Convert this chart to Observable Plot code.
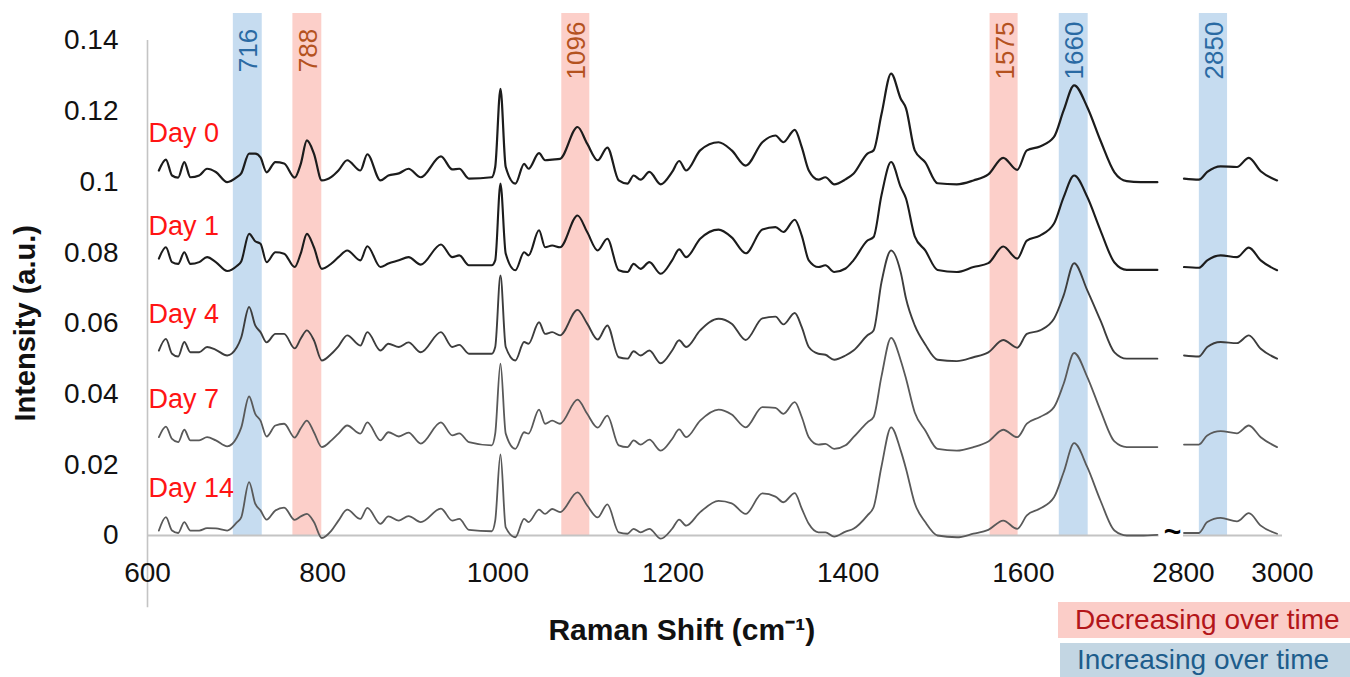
<!DOCTYPE html>
<html>
<head>
<meta charset="utf-8">
<script src="https://cdn.jsdelivr.net/npm/d3@7"></script>
<script src="https://cdn.jsdelivr.net/npm/@observablehq/plot@0.6"></script>
<style>
  html, body { margin: 0; padding: 0; background: #fff; }
  #wrap { position: relative; width: 1350px; height: 677px; font-family: Arial, "Liberation Sans", sans-serif; }
  .leg { position: absolute; font-size: 28px; box-sizing: border-box; padding-left: 17px; white-space: nowrap; }
  #legDec { left: 1058px; top: 602px; width: 292px; height: 36px; line-height: 36px; background: #fbcdc8; color: #b3161a; }
  #legInc { left: 1060px; top: 643px; width: 290px; height: 34px; line-height: 34px; background: #c3d6e3; color: #1d5d8c; }
</style>
</head>
<body>
<div id="wrap">
  <div id="chart"></div>
  <div class="leg" id="legDec">Decreasing over time</div>
  <div class="leg" id="legInc">Increasing over time</div>
</div>
<script>
// ---- data ----
const wavenumbers = [
  613,621,628,635,642,649,659,668,678,691,
  702,707,716,723,729,736,746,756,768,775,
  782,790,799,810,818,828,843,851,866,875,
  887,898,912,935,948,956,967,993,997,1003,
  1009,1020,1030,1035,1047,1054,1062,1071,1091,1102,
  1114,1125,1138,1148,1155,1163,1173,1186,1199,1207,
  1215,1231,1252,1267,1283,1302,1317,1326,1339,1347,
  1355,1366,1374,1384,1397,1406,1422,1429,1438,1449,
  1460,1466,1476,1488,1502,1524,1543,1560,1577,1593,
  1604,1619,1635,1646,1658,1673,1688,1704,1718,1734,
  1753,
  2801,2831,2848,2875,2908,2932,2956,2989
];

const day0 = [
  .1032,.1063,.1018,.1012,.1056,.1013,.1018,.1037,.1028,.0999,
  .1013,.1024,.1080,.1080,.1069,.1027,.1056,.1052,.1012,.1051,
  .1117,.1080,.1004,.1014,.1032,.1061,.1032,.1078,.1004,.1018,
  .1024,.1037,.1013,.1072,.1035,.1037,.1009,.1013,.1042,.1263,
  .1042,.0995,.1051,.1037,.1081,.1061,.1063,.1065,.1155,.1108,
  .1061,.1097,.1004,.0995,.1018,.1006,.1028,.0993,.1028,.1059,
  .1032,.1089,.1112,.1089,.1046,.1112,.1131,.1112,.1147,.1098,
  .1032,.1006,.1013,.0993,.1007,.1023,.1080,.1089,.1191,.1306,
  .1235,.1208,.1089,.1055,.0996,.0993,.1004,.1021,.1068,.1034,
  .1089,.1100,.1127,.1202,.1273,.1211,.1117,.1027,.1002,.0999,
  .0999,
  .1009,.1006,.1028,.1044,.1042,.1068,.1030,.1004
];

const day1 = [
  .0783,.0815,.0773,.0768,.0801,.0768,.0773,.0787,.0773,.0748,
  .0762,.0775,.0853,.0832,.0825,.0773,.0801,.0797,.0759,.0798,
  .0853,.0815,.0754,.0769,.0787,.0806,.0778,.0818,.0759,.0769,
  .0778,.0787,.0766,.0823,.0787,.0792,.0764,.0764,.0778,.0995,
  .0797,.0750,.0801,.0792,.0863,.0815,.0820,.0815,.0905,.0858,
  .0806,.0839,.0750,.0745,.0768,.0754,.0773,.0740,.0778,.0809,
  .0787,.0839,.0865,.0843,.0798,.0865,.0872,.0858,.0893,.0848,
  .0778,.0759,.0764,.0745,.0755,.0778,.0834,.0844,.0962,.1056,
  .0985,.0953,.0846,.0806,.0751,.0745,.0759,.0770,.0817,.0783,
  .0834,.0848,.0882,.0957,.1018,.0957,.0863,.0772,.0751,.0751,
  .0751,
  .0759,.0757,.0778,.0792,.0787,.0814,.0778,.0750
];

const day4 = [
  .0523,.0556,.0514,.0506,.0547,.0518,.0518,.0533,.0525,.0509,
  .0532,.0560,.0646,.0594,.0575,.0546,.0570,.0570,.0529,.0557,
  .0580,.0552,.0495,.0514,.0535,.0566,.0537,.0575,.0523,.0542,
  .0533,.0546,.0518,.0575,.0533,.0539,.0514,.0514,.0533,.0735,
  .0533,.0495,.0547,.0542,.0603,.0570,.0575,.0566,.0638,.0599,
  .0554,.0594,.0504,.0500,.0521,.0509,.0523,.0487,.0523,.0552,
  .0533,.0580,.0613,.0599,.0553,.0614,.0619,.0597,.0629,.0589,
  .0533,.0514,.0511,.0497,.0509,.0523,.0566,.0580,.0716,.0806,
  .0744,.0670,.0594,.0540,.0497,.0493,.0504,.0518,.0553,.0531,
  .0570,.0580,.0613,.0679,.0770,.0693,.0608,.0518,.0500,.0500,
  .0500,
  .0509,.0506,.0533,.0547,.0544,.0566,.0528,.0500
];

const day7 = [
  .0278,.0308,.0273,.0264,.0299,.0269,.0269,.0278,.0269,.0252,
  .0277,.0305,.0393,.0344,.0325,.0280,.0311,.0316,.0277,.0303,
  .0325,.0292,.0250,.0269,.0288,.0311,.0288,.0320,.0269,.0292,
  .0280,.0291,.0260,.0320,.0283,.0289,.0264,.0255,.0288,.0486,
  .0288,.0245,.0292,.0288,.0356,.0316,.0325,.0316,.0384,.0344,
  .0305,.0339,.0255,.0250,.0269,.0257,.0271,.0240,.0273,.0300,
  .0278,.0325,.0356,.0342,.0306,.0363,.0361,.0344,.0377,.0335,
  .0278,.0257,.0259,.0245,.0255,.0278,.0320,.0335,.0450,.0559,
  .0495,.0444,.0348,.0297,.0245,.0240,.0250,.0266,.0299,.0278,
  .0316,.0335,.0363,.0429,.0516,.0448,.0354,.0266,.0250,.0250,
  .0250,
  .0257,.0257,.0283,.0295,.0289,.0311,.0278,.0250
];

const day14 = [
  .0014,.0052,.0014,.0007,.0038,.0014,.0014,.0021,.0020,.0014,
  .0037,.0051,.0151,.0090,.0071,.0045,.0071,.0079,.0044,.0054,
  .0061,.0038,-.0007,.0014,.0042,.0073,.0047,.0078,.0033,.0054,
  .0042,.0055,.0038,.0076,.0042,.0047,.0016,.0012,.0042,.0229,
  .0023,-.0005,.0047,.0038,.0073,.0061,.0075,.0066,.0122,.0085,
  .0051,.0088,.0009,.0005,.0019,.0009,.0019,-.0009,.0019,.0045,
  .0028,.0066,.0098,.0091,.0061,.0119,.0110,.0094,.0120,.0076,
  .0033,.0009,.0009,-.0003,.0011,.0019,.0057,.0080,.0195,.0306,
  .0240,.0189,.0091,.0038,.0000,-.0005,.0005,.0016,.0042,.0019,
  .0057,.0076,.0108,.0179,.0261,.0193,.0099,.0014,.0000,.0000,
  .0002,
  .0007,.0007,.0038,.0050,.0040,.0063,.0028,.0005
];

const dayNames = ["Day 0", "Day 1", "Day 4", "Day 7", "Day 14"];
const dayLabelY = [0.1136, 0.0875, 0.0626, 0.0386, 0.0134];

const bandLabels = ["716", "788", "1096", "1575", "1660", "2850"];
const bandStart  = [698, 766, 1073, 1562, 1641, 2832];
const bandEnd    = [731, 799, 1105, 1594, 1674, 2889];
const bandTrend  = ["inc", "dec", "dec", "dec", "inc", "inc"];

const xTicks = [600, 800, 1000, 1200, 1400, 1600, 2800, 3000];
const yTicks = [0, 0.02, 0.04, 0.06, 0.08, 0.1, 0.12, 0.14];
const yTickLabels = ["0", "0.02", "0.04", "0.06", "0.08", "0.1", "0.12", "0.14"];

// ---- build tables ----
const series = [day0, day1, day4, day7, day14];
const lineStyle = [
  {stroke: "#1c1c1c", width: 2.2},
  {stroke: "#1c1c1c", width: 2.1},
  {stroke: "#3d3d3d", width: 1.9},
  {stroke: "#595959", width: 1.8},
  {stroke: "#595959", width: 1.8}
];
const rowsByDay = series.map((vals, i) =>
  vals.map((v, j) => ({day: dayNames[i], wn: wavenumbers[j], v, seg: wavenumbers[j] > 2000 ? "high" : "low"}))
);
const bands = bandLabels.map((label, i) => ({label, x1: bandStart[i], x2: bandEnd[i], trend: bandTrend[i]}));
const bandFill = {inc: "#c6dcf0", dec: "#fccfc9"};
const bandText = {inc: "#2a6aa3", dec: "#b4521f"};
const yLabelMap = new Map(yTicks.map((t, i) => [t, yTickLabels[i]]));

const font = "Arial, 'Liberation Sans', sans-serif";

const chart = Plot.plot({
  width: 1350,
  height: 677,
  marginLeft: 147,
  marginRight: 68,
  marginTop: 13,
  marginBottom: 142,
  style: {fontFamily: font, background: "transparent", color: "#111"},
  x: {type: "linear", domain: [600, 1760, 2800, 3000], range: [147, 1163, 1183, 1282]},
  y: {domain: [0, 0.1476]},
  marks: [
    Plot.rect(bands, {x1: "x1", x2: "x2", fill: d => bandFill[d.trend]}),
    Plot.text(bands, {
      x: d => (d.x1 + d.x2) / 2, frameAnchor: "top", dx: -9, dy: 37, rotate: -90,
      text: "label", fill: d => bandText[d.trend], fontSize: 26, textAnchor: "middle"
    }),
    Plot.ruleX([600], {y1: -0.0204, y2: 0.14, stroke: "#c4c4c4", strokeWidth: 1.6}),
    Plot.ruleY([0], {x1: 600, x2: 1755, stroke: "#c4c4c4", strokeWidth: 1.8}),
    Plot.ruleY([0], {x1: 2798, x2: 3000, stroke: "#c4c4c4", strokeWidth: 1.8}),
    ...rowsByDay.map((rows, i) => Plot.line(rows, {
      x: "wn", y: "v", z: "seg", curve: "monotone-x",
      stroke: lineStyle[i].stroke, strokeWidth: lineStyle[i].width
    })),
    Plot.text(dayNames, {
      x: 600, y: (d, i) => dayLabelY[i], dx: 1, text: d => d,
      textAnchor: "start", fill: "#ff1414", fontSize: 27
    }),
    Plot.text(["~"], {x: 2228, y: 0, dy: -3, text: d => d, fontSize: 30, fontWeight: "bold", fill: "#000"}),
    Plot.axisX({ticks: xTicks, tickSize: 0, tickPadding: 27, fontSize: 28, tickFormat: d => String(d), label: null, fill: "#111"}),
    Plot.axisY({ticks: yTicks, tickSize: 0, tickPadding: 29, fontSize: 28, tickFormat: d => yLabelMap.get(d) ?? String(d), label: null, fill: "#111"}),
    Plot.text(["Intensity (a.u.)"], {x: 600, y: 0.06, dx: -122, rotate: -90, text: d => d, fontSize: 29, fontWeight: "bold", fill: "#111", textAnchor: "middle"}),
    Plot.text(["Raman Shift (cm\u207B\u00B9)"], {x: 1210, y: 0, dy: 95, text: d => d, fontSize: 30, fontWeight: "bold", fill: "#111", textAnchor: "middle"})
  ]
});
document.getElementById("chart").appendChild(chart);
</script>
</body>
</html>
